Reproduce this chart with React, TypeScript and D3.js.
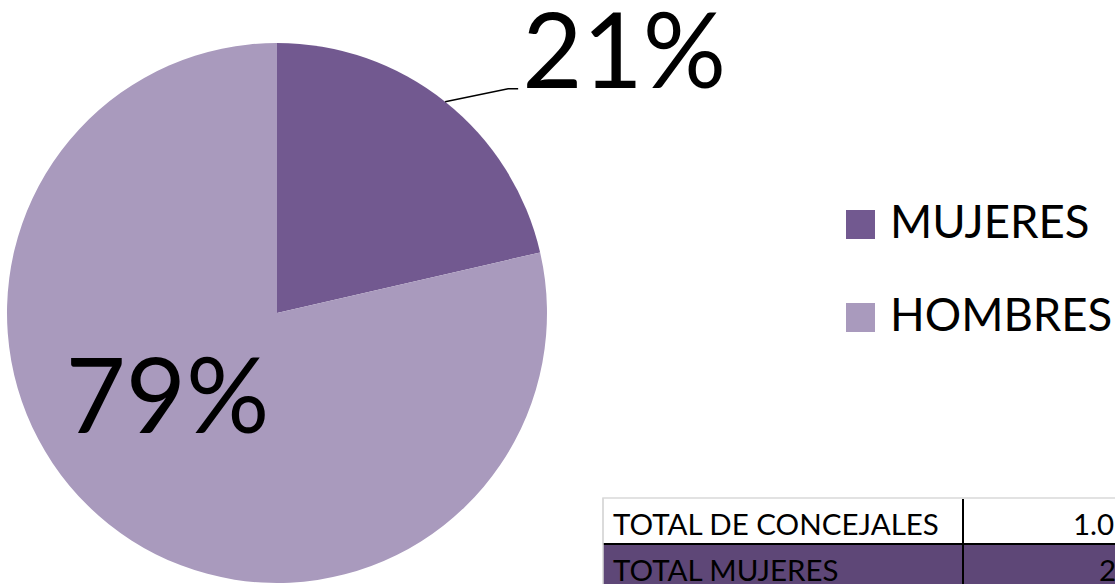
import React from "react";
import * as d3 from "d3";

const categories = ["MUJERES", "HOMBRES"];
const values = [21.4, 78.6];
const labels = ["21%", "79%"];
const colors = ["#725990", "#A99ABD"];
const tableRows = [
  { label: "TOTAL DE CONCEJALES", value: "1.0" },
  { label: "TOTAL MUJERES", value: "2" },
];

const W = 1115;
const H = 584;
const FONT = "Lato, 'Open Sans', 'Noto Sans', sans-serif";

export default function App() {
  const cx = 277;
  const cy = 313;
  const r = 270;
  const pie = d3.pie<number>().sort(null).value((d) => d)(values);
  const arc = d3.arc<d3.PieArcDatum<number>>().innerRadius(0).outerRadius(r);

  // leader line for first slice
  const p0 = pie[0];
  const mid0 = (p0.startAngle + p0.endAngle) / 2;
  const lx0 = cx + r * Math.sin(mid0);
  const ly0 = cy - r * Math.cos(mid0);
  const lx1 = lx0 + 63;
  const ly1 = ly0 - 13;
  const lx2 = lx1 + 10;

  // inner label for second slice
  const p1 = pie[1];
  const mid1 = (p1.startAngle + p1.endAngle) / 2 + 0.25;
  const ir = 140;
  const tx1 = cx + ir * Math.sin(mid1);
  const ty1 = cy - ir * Math.cos(mid1);

  const legendX = 846;
  const legendY = [210, 303];

  const tableX = 603;
  const tableTop = 498;
  const rowH = [46, 60];
  const divX = 963;

  return (
    <div style={{ position: "absolute", left: 0, top: 0 }}>
      <svg width={W} height={H} style={{ display: "block", background: "#fff" }}>
        <g transform={`translate(${cx},${cy})`}>
          {pie.map((p, i) => (
            <path key={categories[i]} d={arc(p) || ""} fill={colors[i]} />
          ))}
        </g>
        <polyline
          points={`${lx0},${ly0} ${lx1},${ly1} ${lx2},${ly1}`}
          fill="none"
          stroke="#000"
          strokeWidth={1.5}
        />
        <text x={lx2 + 4} y={ly1 - 1} fontFamily={FONT} fontSize={104} fill="#000">
          {labels[0]}
        </text>
        <text x={tx1 + 2} y={ty1 + 35} fontFamily={FONT} fontSize={104} fill="#000" textAnchor="middle">
          {labels[1]}
        </text>

        {categories.map((c, i) => (
          <g key={c}>
            <rect x={legendX} y={legendY[i]} width={29} height={29} fill={colors[i]} />
            <text x={legendX + 44} y={legendY[i] + 28} fontFamily={FONT} fontSize={45.5} fill="#000">
              {c}
            </text>
          </g>
        ))}

        {/* table */}
        <rect x={tableX} y={tableTop} width={W} height={rowH[0]} fill="#fff" stroke="#d9d9d9" strokeWidth={1.5} />
        <rect x={tableX} y={tableTop + rowH[0]} width={W} height={rowH[1]} fill="#5E4777" />
        <line x1={tableX} x2={W} y1={tableTop + rowH[0]} y2={tableTop + rowH[0]} stroke="#000" strokeWidth={2} />
        <line x1={tableX} x2={tableX} y1={tableTop} y2={H} stroke="#d9d9d9" strokeWidth={1.5} />
        <line x1={divX} x2={divX} y1={tableTop + 1} y2={H} stroke="#000" strokeWidth={2} />
        {tableRows.map((row, i) => (
          <g key={row.label}>
            <text x={tableX + 10} y={i === 0 ? 535 : 581} fontFamily={FONT} fontSize={29.5} fill="#000">
              {row.label}
            </text>
            <text x={i === 0 ? 1073 : 1099} y={i === 0 ? 535 : 581} fontFamily={FONT} fontSize={29.5} fill="#000">
              {row.value}
            </text>
          </g>
        ))}
      </svg>
    </div>
  );
}
